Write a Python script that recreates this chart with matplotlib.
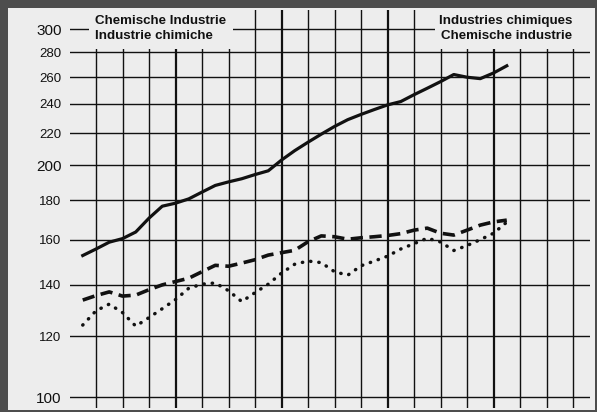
import numpy as np
import matplotlib.pyplot as plt
from matplotlib.patches import Rectangle

# Index values (log scale), read at half-grid steps
solid_values = [152.7, 155.7, 158.9, 160.6, 163.8, 170.7, 176.9, 178.5, 180.8, 184.5,
                188.2, 190.2, 192.0, 194.4, 196.6, 203.0, 208.8, 214.1, 219.3, 224.4,
                229.0, 232.6, 236.0, 239.3, 241.7, 246.7, 251.5, 256.5, 262.0, 259.9,
                258.8, 263.2, 268.9]
dashed_values = [133.7, 135.5, 137.0, 135.3, 135.7, 137.9, 139.9, 141.3, 142.7, 145.5,
                 148.3, 147.9, 149.3, 150.8, 152.9, 154.0, 155.1, 159.1, 161.9, 161.5,
                 160.3, 161.0, 161.5, 162.1, 163.0, 164.7, 165.7, 163.2, 162.3, 164.7,
                 167.2, 168.8, 169.7]
dotted_values = [124.1, 129.5, 132.1, 128.8, 123.7, 126.9, 130.3, 133.9, 138.5, 140.2,
                 140.7, 137.5, 133.1, 136.7, 140.2, 144.9, 148.8, 150.2, 149.5, 145.5,
                 144.0, 148.1, 150.2, 152.4, 155.7, 158.2, 160.8, 159.0, 155.0, 157.3,
                 160.1, 163.2, 168.7]
y_ticks = [100, 120, 140, 160, 180, 200, 220, 240, 260, 280, 300]
n_vgrid = 19
thick_vgrid = [3, 7, 11, 15]

W, H = 597, 412
PANEL = "#ededed"
INK = "#111111"

plt.rcParams["font.family"] = ["Liberation Sans", "DejaVu Sans"]
fig = plt.figure(figsize=(W / 100, H / 100), dpi=100, facecolor="#4d4d4d")


def fig_rect(x0, y0, x1, y1, **kw):
    # rectangle given in pixel coords (origin top-left)
    return Rectangle((x0 / W, 1 - y1 / H), (x1 - x0) / W, (y1 - y0) / H,
                     transform=fig.transFigure, **kw)


fig.patches.append(fig_rect(8, 8, 595, 410, facecolor=PANEL, edgecolor="none", zorder=-5))

ax = fig.add_axes([70 / W, (H - 408) / H, 520 / W, 398 / H])
ax.set_facecolor("none")
ax.set_yscale("log")
ax.set_xlim(-0.981, 18.64)
ax.set_ylim(96.9, 317.6)
for s in ax.spines.values():
    s.set_visible(False)

# grid
for i in range(n_vgrid):
    ax.axvline(i, color=INK, lw=1.6 if i in thick_vgrid else 1.0, zorder=1)
for v in y_ticks:
    ax.axhline(v, color=INK, lw=1.0, zorder=1)

ax.set_xticks([])
ax.set_yticks(y_ticks)
ax.set_yticklabels([str(v) for v in y_ticks])
ax.yaxis.set_minor_locator(plt.NullLocator())
ax.tick_params(axis="y", length=0, pad=6, labelsize=9.5, labelcolor=INK)
for lab in ax.get_yticklabels():
    if lab.get_text() in ("100", "200", "300"):
        lab.set_fontsize(11)

x = np.arange(len(solid_values)) * 0.5 - 0.5
ax.plot(x, solid_values, color=INK, lw=2.3, solid_joinstyle="round", zorder=3)
ax.plot(x, dashed_values, color=INK, lw=2.6, linestyle=(0, (3.4, 1.8)), zorder=3)
ax.plot(x, dotted_values, color=INK, lw=2.5, linestyle=(0, (0.1, 2.3)),
        dash_capstyle="round", zorder=3)

# title boxes covering the grid
fig.patches.append(fig_rect(89, 10, 233, 49, facecolor=PANEL, edgecolor="none", zorder=5))
fig.patches.append(fig_rect(435, 10, 590, 49, facecolor=PANEL, edgecolor="none", zorder=5))
fig.text(95 / W, 1 - 15 / H, "Chemische Industrie\nIndustrie chimiche", ha="left", va="top",
         fontsize=9.6, fontweight="bold", color=INK, linespacing=1.3, zorder=6)
fig.text(572 / W, 1 - 15 / H, "Industries chimiques\nChemische industrie", ha="right", va="top",
         fontsize=9.6, fontweight="bold", color=INK, linespacing=1.3, multialignment="right",
         zorder=6)

fig.savefig("out.png", dpi=100, facecolor=fig.get_facecolor())
